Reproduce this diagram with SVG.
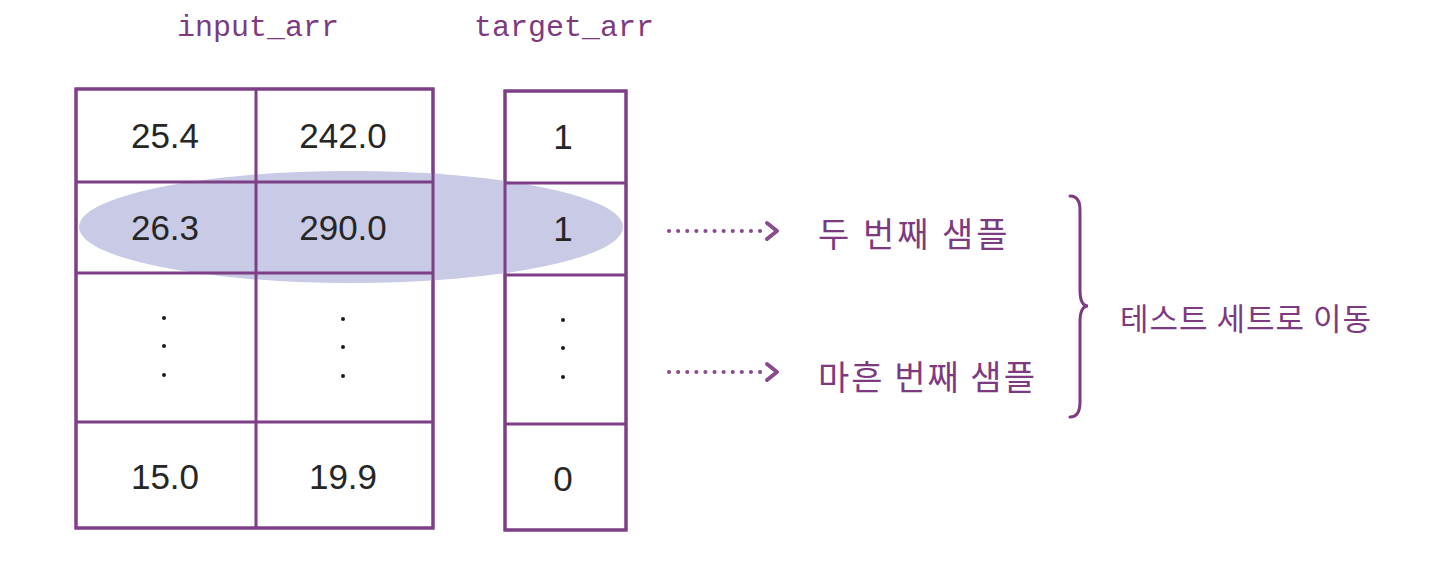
<svg xmlns="http://www.w3.org/2000/svg" width="1440" height="586" viewBox="0 0 1440 586">
<style>
.cell{fill:#ffffff;stroke:#7d3f86;stroke-width:3}
.grid{stroke:#7d3f86;stroke-width:3;fill:none}
.num{font-family:"Liberation Sans",Arial,sans-serif;font-size:35px;fill:#262626;text-anchor:middle}
.hdr{font-family:"Liberation Mono","DejaVu Sans Mono",monospace;font-size:30px;fill:#7d3a80;text-anchor:middle}
.lbl{font-family:"Noto Sans CJK KR","Noto Sans",sans-serif;font-size:34px;fill:#7d3a80;letter-spacing:3px}
.dot{fill:#1a1a1a}
.arr{stroke:#8a4a8e;stroke-width:4;stroke-linecap:round;stroke-dasharray:0.1 9;fill:none}
.head{fill:none;stroke:#8a4a8e;stroke-width:4;stroke-linecap:round;stroke-linejoin:round}
</style>
<rect width="1440" height="586" fill="#ffffff"/>
<g id="header-input"><text class="hdr" x="258" y="36">input_arr</text></g>
<g id="header-target"><text class="hdr" x="564" y="36">target_arr</text></g>
<g id="input_arr">
<rect class="cell" x="76" y="89" width="357" height="439"/>
</g>
<g id="target_arr">
<rect class="cell" x="505" y="91" width="121" height="439"/>
</g>
<g id="highlight">
<ellipse cx="351" cy="227" rx="272" ry="56" fill="#c9cae5"/>
</g>
<g id="grid-lines">
<rect class="grid" x="76" y="89" width="357" height="439"/>
<line class="grid" x1="256" y1="89" x2="256" y2="528"/>
<line class="grid" x1="76" y1="182" x2="433" y2="182"/>
<line class="grid" x1="76" y1="273" x2="433" y2="273"/>
<line class="grid" x1="76" y1="422" x2="433" y2="422"/>
<rect class="grid" x="505" y="91" width="121" height="439"/>
<line class="grid" x1="505" y1="183" x2="626" y2="183"/>
<line class="grid" x1="505" y1="275" x2="626" y2="275"/>
<line class="grid" x1="505" y1="424" x2="626" y2="424"/>
</g>
<g id="values">
<text class="num" x="165" y="148">25.4</text>
<text class="num" x="343" y="148">242.0</text>
<text class="num" x="563" y="149">1</text>
<text class="num" x="165" y="240">26.3</text>
<text class="num" x="343" y="240">290.0</text>
<text class="num" x="563" y="241">1</text>
<text class="num" x="165" y="489">15.0</text>
<text class="num" x="343" y="489">19.9</text>
<text class="num" x="563" y="491">0</text>
<circle class="dot" cx="164" cy="318" r="2"/>
<circle class="dot" cx="164" cy="346" r="2"/>
<circle class="dot" cx="164" cy="375" r="2"/>
<circle class="dot" cx="343" cy="319" r="2"/>
<circle class="dot" cx="343" cy="347" r="2"/>
<circle class="dot" cx="343" cy="376" r="2"/>
<circle class="dot" cx="563" cy="320" r="2"/>
<circle class="dot" cx="563" cy="348" r="2"/>
<circle class="dot" cx="563" cy="377" r="2"/>
</g>
<g id="connectors">
<line class="arr" x1="669" y1="231" x2="768" y2="231"/>
<path class="head" d="M767,223 L777,231 L767,239"/>
<line class="arr" x1="669" y1="372" x2="768" y2="372"/>
<path class="head" d="M767,364 L777,372 L767,380"/>
<path d="M1070,196 Q1080,196 1080,210 L1080,290 Q1080,306 1088,306 Q1080,306 1080,322 L1080,402 Q1080,417 1070,417" fill="none" stroke="#7d3a80" stroke-width="3" stroke-linecap="round"/>
</g>
<g id="label-second"><text class="lbl" x="818" y="247">두 번째 샘플</text></g>
<g id="label-fortieth"><text class="lbl" x="818" y="390" style="letter-spacing:2px">마흔 번째 샘플</text></g>
<g id="label-move"><text class="lbl" x="1120" y="330" style="font-size:31px;letter-spacing:1px">테스트 세트로 이동</text></g>
</svg>
